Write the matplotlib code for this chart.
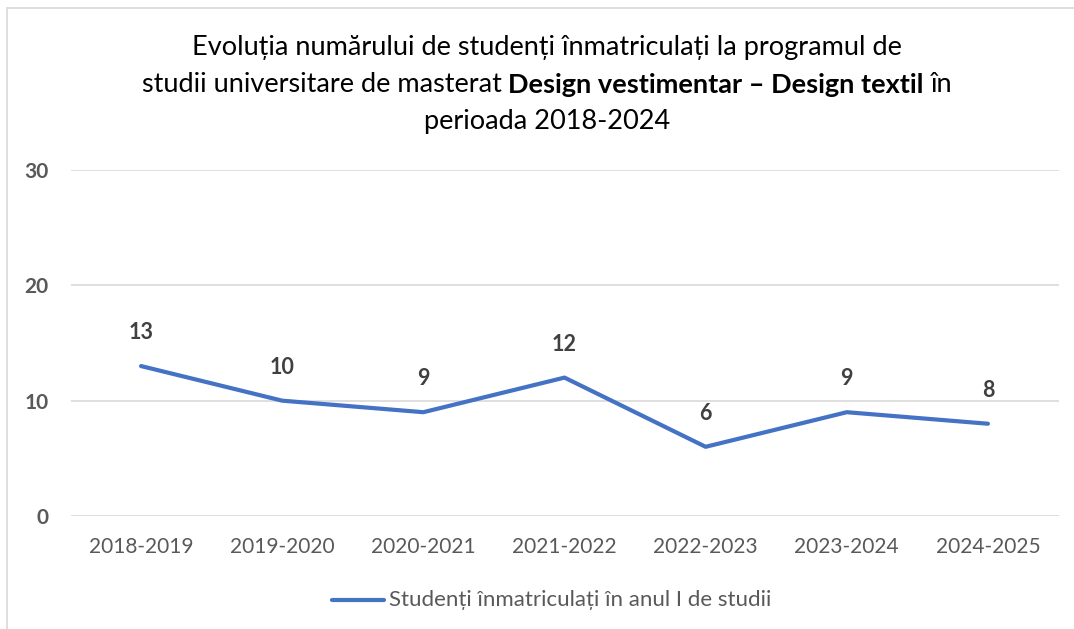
import matplotlib
matplotlib.use("Agg")
import matplotlib.pyplot as plt
from matplotlib.patches import Rectangle
from matplotlib.lines import Line2D

FONT = "Lato"
plt.rcParams['font.family'] = [FONT, 'DejaVu Sans']

years = ["2018-2019", "2019-2020", "2020-2021", "2021-2022",
         "2022-2023", "2023-2024", "2024-2025"]
students = [13, 10, 9, 12, 6, 9, 8]
y_ticks = [0, 10, 20, 30]
series_label = "Studenți înmatriculați în anul I de studii"
title_lines = [
    [("Evoluția numărului de studenți înmatriculați la programul de", "normal")],
    [("studii universitare de masterat", "normal"),
     ("Design vestimentar – Design textil", "bold"),
     ("în", "normal")],
    [("perioada 2018-2024", "normal")],
]

LINE_COLOR = '#4472C4'
W, H = 1074, 629

fig = plt.figure(figsize=(W / 100, H / 100), dpi=100)
fig.patch.set_facecolor('white')

# outer chart frame
fig.add_artist(Rectangle((7 / W, -0.05), 1.1, 1 - 8 / H + 0.05, transform=fig.transFigure,
                         fill=False, edgecolor='#d9d9d9', linewidth=1.2))

ax = fig.add_axes([70.5 / W, 1 - 516 / H, (1058.5 - 70.5) / W, (516 - 170) / H])
x = list(range(len(years)))
ax.plot(x, students, color=LINE_COLOR, linewidth=3, solid_capstyle='round',
        solid_joinstyle='round', zorder=3)
for xi, v in zip(x, students):
    ax.annotate(str(v), (xi, v), xytext=(0, 24), textcoords='offset points',
                ha='center', va='center', fontsize=15.5, fontweight='bold', color='#404040')

ax.set_xlim(-0.5, len(years) - 0.5)
ax.set_ylim(0, 30)
ax.set_yticks(y_ticks)
ax.set_xticks(x)
ax.set_xticklabels(years)
ax.grid(axis='y', color='#d9d9d9', linewidth=1.2)
ax.set_axisbelow(True)
for s in ax.spines.values():
    s.set_visible(False)
ax.tick_params(length=0)
ax.tick_params(axis='x', pad=15, labelsize=15, labelcolor='#595959')
ax.tick_params(axis='y', pad=16, labelsize=15, labelcolor='#595959')
for lbl in ax.get_yticklabels():
    lbl.set_fontweight('bold')

# title with mixed weights
renderer = fig.canvas.get_renderer()
TSIZE = 19.5
cx = 547
space = (fig.text(0, 0, "a a", fontsize=TSIZE).get_window_extent(renderer).width
         - fig.text(0, 0, "aa", fontsize=TSIZE).get_window_extent(renderer).width)
for t in fig.texts[-2:]:
    t.remove()
for i, parts in enumerate(title_lines):
    yc = 1 - (48 + 37 * i) / H
    texts = [fig.text(0, yc, s, fontsize=TSIZE, fontweight=w, color='#000000', va='center')
             for s, w in parts]
    widths = [t.get_window_extent(renderer).width for t in texts]
    total = sum(widths) + space * (len(texts) - 1)
    xp = cx - total / 2
    for t, w in zip(texts, widths):
        t.set_x(xp / W)
        xp += w + space

# legend
fig.add_artist(Line2D([332 / W, 384 / W], [1 - 600 / H] * 2, transform=fig.transFigure,
                      color=LINE_COLOR, linewidth=3, solid_capstyle='round'))
fig.text(389 / W, 1 - 600 / H, series_label, fontsize=16, color='#595959', va='center')

fig.savefig("out.png", dpi=100)
